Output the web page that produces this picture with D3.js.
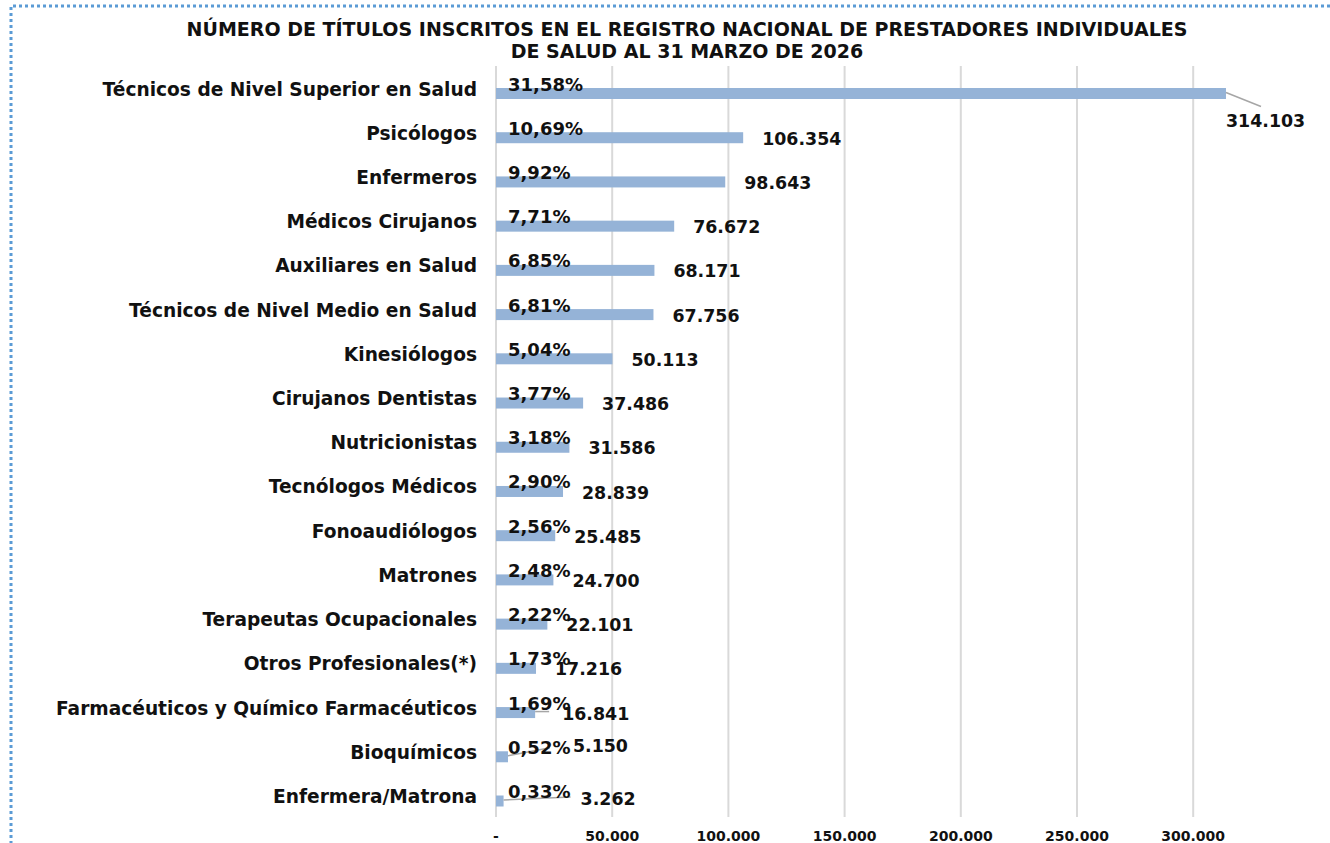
<!DOCTYPE html>
<html>
<head>
<meta charset="utf-8">
<script src="https://cdn.jsdelivr.net/npm/d3@7"></script>
<style>
  body { margin: 0; background: #fff; }
  svg text { fill: #111; }
  .cat-lbl  { font: bold 18.6px "DejaVu Sans", Verdana, sans-serif; }
  .val-lbl  { font: bold 17.4px "DejaVu Sans", Verdana, sans-serif; }
  .pct-lbl  { font: bold 18px "DejaVu Sans", Verdana, sans-serif; }
  .tick-lbl { font: bold 14px "DejaVu Sans", Verdana, sans-serif; }
  .title    { font: bold 19px "DejaVu Sans", Tahoma, sans-serif; }
</style>
</head>
<body>
<svg id="chart" width="1330" height="843"></svg>
<script>
// ── Data ────────────────────────────────────────────────────────────────────
const CATEGORIES = [
  "Técnicos de Nivel Superior en Salud",
  "Psicólogos",
  "Enfermeros",
  "Médicos Cirujanos",
  "Auxiliares en Salud",
  "Técnicos de Nivel Medio en Salud",
  "Kinesiólogos",
  "Cirujanos Dentistas",
  "Nutricionistas",
  "Tecnólogos Médicos",
  "Fonoaudiólogos",
  "Matrones",
  "Terapeutas Ocupacionales",
  "Otros Profesionales(*)",
  "Farmacéuticos y Químico Farmacéuticos",
  "Bioquímicos",
  "Enfermera/Matrona",
];
const VALUES = [314103, 106354, 98643, 76672, 68171, 67756, 50113, 37486,
                31586, 28839, 25485, 24700, 22101, 17216, 16841, 5150, 3262];
const PERCENTS = ["31,58%", "10,69%", "9,92%", "7,71%", "6,85%", "6,81%", "5,04%", "3,77%",
                  "3,18%", "2,90%", "2,56%", "2,48%", "2,22%", "1,73%", "1,69%", "0,52%", "0,33%"];
const TICKS = [0, 50000, 100000, 150000, 200000, 250000, 300000];
const TITLE = [
  "NÚMERO DE TÍTULOS INSCRITOS EN EL REGISTRO NACIONAL DE PRESTADORES INDIVIDUALES",
  "DE SALUD AL 31 MARZO DE 2026",
];

// ── Layout ──────────────────────────────────────────────────────────────────
const X0 = 496, PX_PER_UNIT = 116.2 / 50000;
const Y_TOP = 93.5, Y_BOT = 801;
const BAR_H = 11;
const BAR_COLOR = "#95b3d7", GRID = "#d9d9d9", LEADER = "#a6a6a6";

// value labels that Excel pushed off with leader lines
// dx/dy: label offset from bar end / bar centre; lx/ly: leader line end
const LABEL_NUDGE = {
  0:  { dx: 0,  dy: 27,  lx: 35, ly: 13 },
  14: { dx: 27, dy: 1,   lx: 14, ly: -1 },
  15: { dx: 65, dy: -11, lx: 42, ly: -9 },
  16: { dx: 77, dy: -2,  lx: 67, ly: -4 },
};

const svg = d3.select("#chart");

// dotted frame (top + left edges visible)
svg.append("path")
  .attr("d", "M11,1000 L11,6 L1340,6")
  .attr("fill", "none").attr("stroke", "#5b9bd5")
  .attr("stroke-width", 3).attr("stroke-dasharray", "3,3");

const x = d3.scaleLinear().domain([0, 340000]).range([X0, X0 + 340000 * PX_PER_UNIT]);
const y = d3.scalePoint().domain(CATEGORIES).range([Y_TOP, Y_BOT]);

// Title
svg.append("text").attr("class", "title")
  .attr("x", 687).attr("y", 36).attr("text-anchor", "middle")
  .selectAll("tspan").data(TITLE).join("tspan")
  .attr("x", 687).attr("dy", (d, i) => i ? 22 : 0).text(d => d);

// Grid lines
svg.append("g").selectAll("line").data(TICKS).join("line")
  .attr("x1", d => x(d)).attr("x2", d => x(d))
  .attr("y1", 66).attr("y2", 817)
  .attr("stroke", GRID).attr("stroke-width", 2);

// Tick labels
const fmt = v => d3.format(",")(v).replace(/,/g, ".");
svg.append("g").selectAll("text").data(TICKS).join("text")
  .attr("class", "tick-lbl")
  .attr("x", d => x(d)).attr("y", 841).attr("text-anchor", "middle")
  .text(d => d === 0 ? "-" : fmt(d));

// Category labels
svg.append("g").selectAll("text").data(CATEGORIES).join("text")
  .attr("class", "cat-lbl")
  .attr("x", 477).attr("y", d => y(d) + 2).attr("text-anchor", "end")
  .text(d => d);

const rows = CATEGORIES.map((c, i) => ({ cat: c, v: VALUES[i], pct: PERCENTS[i], i }));

// Bars
svg.append("g").selectAll("rect").data(rows).join("rect")
  .attr("x", x(0)).attr("y", d => y(d.cat) - BAR_H / 2)
  .attr("width", d => x(d.v) - x(0)).attr("height", BAR_H)
  .attr("fill", BAR_COLOR);

// Leader lines
svg.append("g").selectAll("line").data(rows.filter(d => LABEL_NUDGE[d.i])).join("line")
  .attr("x1", d => x(d.v)).attr("y1", d => y(d.cat) - 1)
  .attr("x2", d => x(d.v) + LABEL_NUDGE[d.i].lx)
  .attr("y2", d => y(d.cat) + LABEL_NUDGE[d.i].ly)
  .attr("stroke", LEADER).attr("stroke-width", 1.5);

// Percent labels
svg.append("g").selectAll("text").data(rows).join("text")
  .attr("class", "pct-lbl")
  .attr("x", 508).attr("y", d => y(d.cat) - 3)
  .text(d => d.pct);

// Value labels
svg.append("g").selectAll("text").data(rows).join("text")
  .attr("class", "val-lbl")
  .attr("x", d => x(d.v) + (LABEL_NUDGE[d.i] ? LABEL_NUDGE[d.i].dx : 19))
  .attr("y", d => y(d.cat) + (LABEL_NUDGE[d.i] ? LABEL_NUDGE[d.i].dy : 1))
  .attr("dy", "0.35em")
  .text(d => fmt(d.v));
</script>
</body>
</html>
